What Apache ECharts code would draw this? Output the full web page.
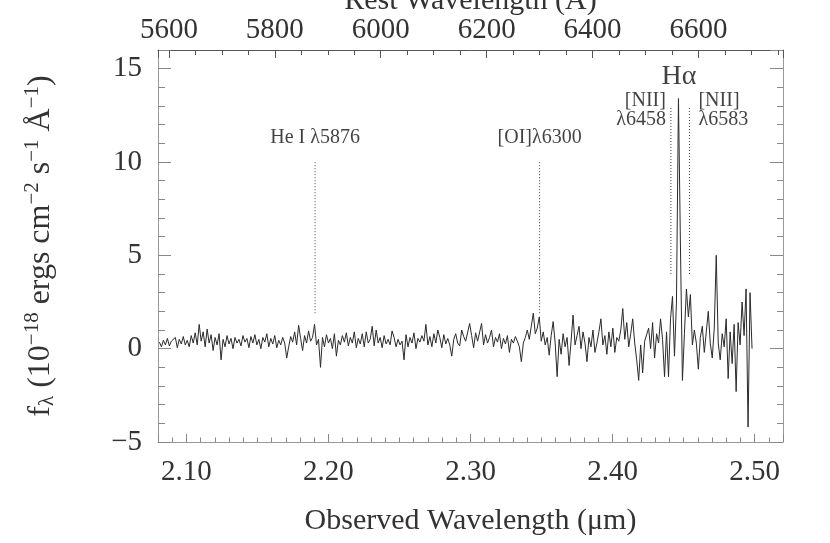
<!DOCTYPE html>
<html><head><meta charset="utf-8">
<script src="https://cdn.jsdelivr.net/npm/echarts@6/dist/echarts.min.js"></script>
<style>html,body{margin:0;padding:0;background:#fff}#c{width:830px;height:543px}</style>
</head><body><div id="c"></div>
<script>
// ---- data ----
const redshift = 2.728;                 // z from H-alpha position
const waveStart = 2.081;                // first observed wavelength (um)
const waveStep = 0.0014;                // pixel step (um)
const flux = [
  0.35, 0.1, 0.45, 0.2, 0.55, 0.15, 0.4, 0.3, 0.6, 0.05, 0.5, 0.25, 0.65, 0.2, 0.45, 0.1, 0.7, 0.3, 0.85, 0.2,
  1.3, 0.4, 0.9, 0.1, 1.05, 0.3, 0.75, -0.1, 0.6, 0.2, 0.8, -0.6, 0.5, 0.1, 0.7, 0.25, 0.55, 0.0, 0.6, 0.3,
  0.5, 0.15, 0.7, 0.35, 0.55, 0.05, 0.65, 0.3, 0.75, 0.2, 0.5, 0.0, 0.6, 0.35, 0.8, 0.1, 0.55, 0.25, 0.7, 0.05,
  0.45, 0.2, 0.6, 0.3, -0.5, 0.1, 0.65, 0.35, 0.9, 0.2, 1.25, 0.55, -0.1, 0.7, 0.3, 0.95, 0.4, 0.6, 1.3, 0.2,
  0.5, -1.0, 0.6, 0.1, 0.75, 0.3, 0.55, 0.0, 0.8, -0.4, 0.45, 0.2, 0.7, 0.35, 0.85, 0.15, 0.6, 0.3, 0.9, 0.05,
  0.55, 0.25, 0.8, 0.1, 0.9, 0.3, 0.5, 1.2, 0.15, 1.0, 0.3, 0.6, 0.05, 0.7, 0.25, 0.5, 0.2, 0.95, 0.6, 0.1,
  0.5, 0.2, 0.4, -0.6, 0.75, 0.1, 0.6, 0.3, 0.85, 0.0, 0.55, 0.35, 0.7, 0.4, 1.3, 0.2, 0.65, 0.1, 0.8, 0.3,
  1.0, 0.6, 0.05, 0.75, 0.25, 0.55, 0.2, -0.4, 0.5, 0.8, 0.3, 0.15, 1.0, 0.65, 0.4, 0.3, 1.35, 0.7, 0.05, 0.85,
  0.4, 0.5, 1.35, 0.2, 0.75, 0.3, 0.6, 1.0, 0.1, 0.6, 0.35, 0.8, 0.0, 0.55, 0.25, 0.7, -0.2, 0.5, 0.3, 0.65,
  0.4, 0.1, -0.7, 0.3, 0.6, 1.0, 0.5, 1.2, 1.9, 0.8, 1.1, 1.7, 0.4, 0.9, 0.2, 0.6, -0.35, 0.7, 1.45, 0.3,
  -1.5, 0.5, -0.3, 0.8, 0.1, 0.6, -0.9, 0.4, 1.8, 0.2, 0.7, 1.2, 0.0, 0.9, 0.3, -0.7, 0.6, 0.1, 1.0, -0.2,
  0.3, 0.9, 1.6, 0.2, 0.7, -0.3, 0.9, 0.1, 1.1, -0.2, 0.6, 0.4, 1.0, 2.15, 0.5, 1.4, 0.1, 0.8, 1.6, 0.3,
  -0.6, -1.7, 0.2, -1.3, 0.4, 0.5, 1.1, 0.0, 1.4, -0.5, 0.8, 0.3, 1.6, 0.5, -1.5, 0.9, -1.5, 1.6, 2.8, -0.4,
  2.5, 13.4, 5.5, -1.7, 0.8, 3.2, 1.7, 2.9, 0.2, 1.0, 0.3, -1.1, 0.6, 1.2, -0.2, 0.9, 2.0, 0.3, -0.5, 1.1,
  5.0, 0.3, -0.6, 0.8, 0.1, 1.6, -1.6, 0.9, -0.8, 1.3, -2.3, 1.4, 0.2, 2.5, 0.7, 3.2, -4.2, 3.0, 0.0
];
const obsRange = [2.08, 2.52];          // bottom axis (um)
const fluxRange = [-5, 16];             // y axis
// emission lines (rest wavelength, Angstrom)
const lineRest = [5876, 6300, 6548, 6583];
const lineLabels = ['He I λ5876', '[OI]λ6300', '[NII]\nλ6458', '[NII]\nλ6583'];
const lineBottom = [1.9, 1.9, 4.0, 4.0];
const lineTop = [10, 10, 13, 13];
const lineLabelY = [11.3, 11.3, 12.75, 12.75];
const halphaRest = 6563;
const halphaLabel = 'Hα';
const halphaLabelY = 14.55;

// ---- chart ----
const FONT = '"Liberation Serif","Times New Roman",serif';
const toObs = r => r * (1 + redshift) / 1e4;
const spectrum = flux.map((f, i) => [waveStart + i * waveStep, f]);

const markerSeries = lineRest.map((r, k) => ({
  type: 'line', xAxisIndex: 0, yAxisIndex: 0, symbol: 'none', silent: true,
  lineStyle: { color: '#444', width: 1, type: [1, 2] },
  data: [[toObs(r), lineBottom[k]], [toObs(r), lineTop[k]]], z: 3
}));

const labelAlign = ['center', 'center', 'right', 'left'];
const labelOffset = [[0, 0], [0, 0], [-5, 0], [9, 0]];
const labelData = lineRest.map((r, k) => ({
  value: [toObs(r), lineLabelY[k]],
  label: { formatter: lineLabels[k], align: labelAlign[k], offset: labelOffset[k] }
}));
labelData.push({
  value: [toObs(halphaRest), halphaLabelY],
  label: { formatter: halphaLabel, fontSize: 28 }
});

const axisBase = {
  type: 'value', splitLine: { show: false },
  axisLine: { show: true, onZero: false, lineStyle: { color: '#999', width: 1 } },
  axisTick: { show: true, inside: true, lineStyle: { color: '#888' } },
  minorTick: { show: true, lineStyle: { color: '#888' } },
  axisLabel: { fontFamily: FONT, fontSize: 29, color: '#333', showMinLabel: false, showMaxLabel: false },
  nameTextStyle: { fontFamily: FONT, fontSize: 30, color: '#333' },
  nameMoveOverlap: false
};

const chart = echarts.init(document.getElementById('c'), null, { renderer: 'canvas' });
chart.setOption({
  animation: false,
  backgroundColor: '#fff',
  grid: { left: 158, top: 50, width: 625, height: 392, containLabel: false, outerBoundsMode: 'none' },
  xAxis: [
    Object.assign({}, axisBase, {
      position: 'bottom', min: obsRange[0], max: obsRange[1], splitNumber: 4,
      axisTick: Object.assign({}, axisBase.axisTick, { length: 8 }),
      minorTick: Object.assign({}, axisBase.minorTick, { length: 4.5, splitNumber: 10 }),
      axisLabel: Object.assign({}, axisBase.axisLabel, { margin: 16, formatter: v => v.toFixed(2) }),
      name: 'Observed Wavelength (μm)', nameLocation: 'middle', nameGap: 64
    }),
    Object.assign({}, axisBase, {
      position: 'top', min: obsRange[0] * 1e4 / (1 + redshift), max: obsRange[1] * 1e4 / (1 + redshift),
      axisLine: { show: true, onZero: false, lineStyle: { color: '#555', width: 1 } },
      axisTick: Object.assign({}, axisBase.axisTick, { length: 8, lineStyle: { color: '#555' } }),
      minorTick: Object.assign({}, axisBase.minorTick, { length: 5, splitNumber: 4, lineStyle: { color: '#555' } }),
      axisLabel: Object.assign({}, axisBase.axisLabel, { margin: 5, formatter: v => String(Math.round(v)) }),
      name: 'Rest Wavelength (Å)', nameLocation: 'middle', nameGap: 34
    })
  ],
  yAxis: [
    Object.assign({}, axisBase, {
      position: 'left', min: fluxRange[0], max: fluxRange[1], splitNumber: 4,
      axisTick: Object.assign({}, axisBase.axisTick, { length: 13 }),
      minorTick: Object.assign({}, axisBase.minorTick, { length: 7, splitNumber: 5 }),
      axisLabel: Object.assign({}, axisBase.axisLabel, { margin: 16, showMinLabel: true,
        formatter: v => v < 0 ? '\u2212' + Math.abs(v) : String(v) }),
      name: '{t|f}{sub|λ}{t| (10}{sup|\u221218}{t| ergs cm}{sup|\u22122}{t| s}{sup|\u22121}{t| Å}{sup|\u22121}{t|)}',
      nameLocation: 'middle', nameGap: 98, nameRotate: 90,
      nameTextStyle: {
        fontFamily: FONT, fontSize: 32, color: '#333',
        rich: {
          t: { fontFamily: FONT, fontSize: 32, color: '#333' },
          sup: { fontFamily: FONT, fontSize: 21, color: '#333', padding: [0, 0, 17, 0] },
          sub: { fontFamily: FONT, fontSize: 21, color: '#333', padding: [13, 0, 0, 0] }
        }
      }
    }),
    Object.assign({}, axisBase, {
      position: 'right', min: fluxRange[0], max: fluxRange[1], splitNumber: 4,
      axisTick: Object.assign({}, axisBase.axisTick, { length: 13 }),
      minorTick: Object.assign({}, axisBase.minorTick, { length: 6, splitNumber: 5 }),
      axisLabel: { show: false }
    })
  ],
  series: [
    {
      type: 'line', xAxisIndex: 0, yAxisIndex: 0, symbol: 'none', silent: true,
      lineStyle: { color: '#2a2a2a', width: 1 }, data: spectrum, z: 4
    },
    ...markerSeries,
    {
      type: 'scatter', xAxisIndex: 0, yAxisIndex: 0, symbolSize: 0, silent: true,
      label: { show: true, position: [0, 0], align: 'center', verticalAlign: 'middle',
        fontFamily: FONT, fontSize: 20, color: '#111', lineHeight: 19 },
      data: labelData, z: 5
    }
  ]
});
</script>
</body></html>
